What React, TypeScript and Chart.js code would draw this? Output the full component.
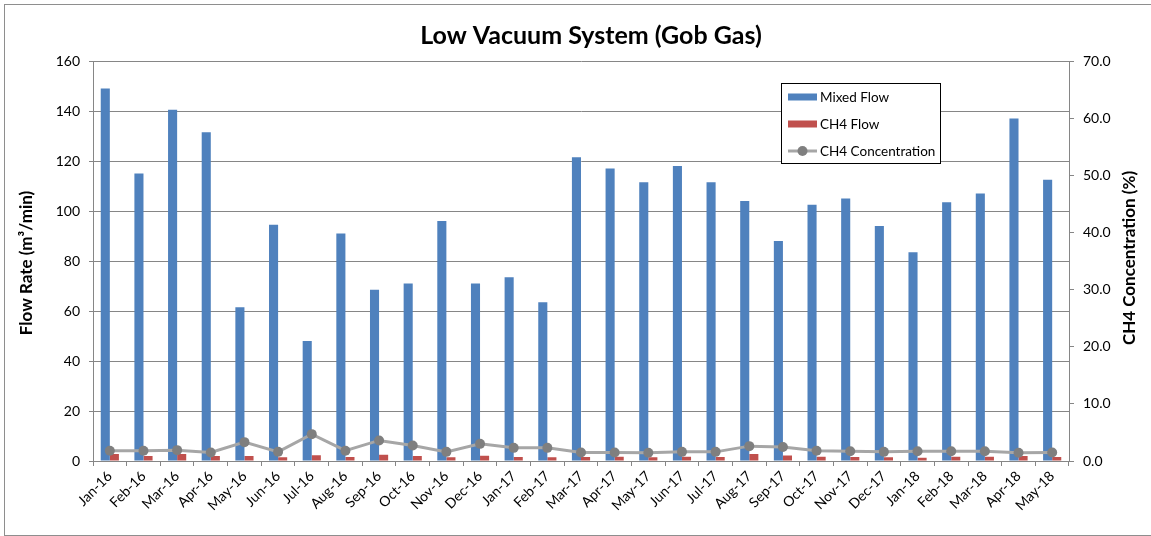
import React, { useEffect, useRef } from "react";
import { Chart, registerables } from "chart.js";

Chart.register(...registerables);

const months = [
  "Jan-16", "Feb-16", "Mar-16", "Apr-16", "May-16", "Jun-16", "Jul-16", "Aug-16", "Sep-16", "Oct-16",
  "Nov-16", "Dec-16", "Jan-17", "Feb-17", "Mar-17", "Apr-17", "May-17", "Jun-17", "Jul-17", "Aug-17",
  "Sep-17", "Oct-17", "Nov-17", "Dec-17", "Jan-18", "Feb-18", "Mar-18", "Apr-18", "May-18",
];

const mixedFlow = [
  149, 115, 140.5, 131.5, 61.5, 94.5, 48, 91, 68.5, 71,
  96, 71, 73.5, 63.5, 121.5, 117, 111.5, 118, 111.5, 104,
  88, 102.5, 105, 94, 83.5, 103.5, 107, 137, 112.5,
];

const ch4Flow = [
  2.8, 2.0, 2.8, 2.0, 2.0, 1.5, 2.3, 1.6, 2.5, 2.0,
  1.5, 2.1, 1.6, 1.5, 1.6, 1.7, 1.5, 1.7, 1.6, 2.8,
  2.2, 1.7, 1.6, 1.5, 1.3, 1.7, 1.7, 2.0, 1.6,
];

const ch4Concentration = [
  1.8, 1.8, 1.9, 1.5, 3.3, 1.6, 4.7, 1.8, 3.6, 2.7,
  1.6, 3.0, 2.3, 2.3, 1.5, 1.5, 1.45, 1.6, 1.6, 2.6,
  2.45, 1.8, 1.7, 1.6, 1.7, 1.7, 1.7, 1.45, 1.5,
];

const titleText = "Low Vacuum System (Gob Gas)";
const leftAxisTitle = "Flow Rate (m\u00B3/min)";
const rightAxisTitle = "CH4 Concentration (%)";
const legendOrder = ["Mixed Flow", "CH4 Flow", "CH4 Concentration"];

const FONT = "Lato, 'Open Sans', sans-serif";
const AXIS_GRAY = "#868686";

export default function App() {
  const ref = useRef<HTMLCanvasElement>(null);

  useEffect(() => {
    const canvas = ref.current;
    if (!canvas) return;

    const decor = {
      id: "decor",
      beforeDraw(chart: any) {
        const ctx = chart.ctx;
        ctx.save();
        ctx.fillStyle = "#ffffff";
        ctx.fillRect(0, 0, chart.width, chart.height);
        ctx.strokeStyle = "#8e8e8e";
        ctx.lineWidth = 1;
        ctx.strokeRect(4.5, 4.5, chart.width + 50, 531);
        ctx.restore();
      },
      afterDraw(chart: any) {
        const ctx = chart.ctx;
        const area = chart.chartArea;
        const midY = (area.top + area.bottom) / 2;
        ctx.save();
        // title
        ctx.fillStyle = "#000";
        ctx.font = `bold 25px ${FONT}`;
        ctx.textAlign = "center";
        ctx.textBaseline = "middle";
        ctx.fillText(titleText, 591, 36);
        // axis titles
        ctx.font = `bold 17px ${FONT}`;
        ctx.save();
        ctx.translate(27, midY + 2);
        ctx.rotate(-Math.PI / 2);
        ctx.fillText(leftAxisTitle, 0, 0);
        ctx.restore();
        ctx.save();
        ctx.translate(1130, midY - 3);
        ctx.rotate(-Math.PI / 2);
        ctx.fillText(rightAxisTitle, 0, 0);
        ctx.restore();
        // legend
        const bx = 781.5, by = 83.5, bw = 159, bh = 80;
        ctx.fillStyle = "#fff";
        ctx.fillRect(bx, by, bw, bh);
        ctx.strokeStyle = "#000";
        ctx.lineWidth = 1;
        ctx.strokeRect(bx, by, bw, bh);
        ctx.font = `13.5px ${FONT}`;
        ctx.textAlign = "left";
        ctx.textBaseline = "middle";
        legendOrder.forEach((label, i) => {
          const ds: any = chart.data.datasets.find((d: any) => d.label === label);
          if (!ds) return;
          const cy = 97 + i * 27;
          if (ds.type === "line") {
            ctx.strokeStyle = ds.borderColor;
            ctx.lineWidth = ds.borderWidth;
            ctx.beginPath();
            ctx.moveTo(788, cy);
            ctx.lineTo(817, cy);
            ctx.stroke();
            ctx.fillStyle = ds.pointBackgroundColor;
            ctx.beginPath();
            ctx.arc(802.5, cy, ds.pointRadius, 0, Math.PI * 2);
            ctx.fill();
          } else {
            ctx.fillStyle = ds.backgroundColor;
            ctx.fillRect(788, cy - 3.5, 29, 7);
          }
          ctx.fillStyle = "#000";
          ctx.fillText(label, 820, cy + 1);
        });
        ctx.restore();
      },
    };

    const chart = new Chart(canvas, {
      type: "bar",
      data: {
        labels: months,
        datasets: [
          {
            type: "line",
            label: "CH4 Concentration",
            data: ch4Concentration,
            yAxisID: "y1",
            order: 0,
            borderColor: "#A6A6A6",
            borderWidth: 3,
            tension: 0,
            pointRadius: 5,
            pointBackgroundColor: "#7F7F7F",
            pointBorderColor: "#7F7F7F",
            pointBorderWidth: 0,
          } as any,
          {
            type: "bar",
            label: "Mixed Flow",
            data: mixedFlow,
            yAxisID: "y",
            order: 1,
            backgroundColor: "#4F81BD",
            categoryPercentage: 0.54,
            barPercentage: 1,
          },
          {
            type: "bar",
            label: "CH4 Flow",
            data: ch4Flow,
            yAxisID: "y",
            order: 1,
            backgroundColor: "#C0504D",
            categoryPercentage: 0.54,
            barPercentage: 1,
          },
        ],
      },
      options: {
        responsive: false,
        animation: false,
        devicePixelRatio: 1,
        layout: { padding: { top: 61, left: 0, right: 0, bottom: 0 } },
        plugins: {
          legend: { display: false },
          title: { display: false },
          tooltip: { enabled: false },
        },
        scales: {
          x: {
            type: "category",
            offset: true,
            grid: {
              display: true,
              drawOnChartArea: false,
              offset: true,
              tickLength: 5,
              color: AXIS_GRAY,
            },
            border: { color: AXIS_GRAY },
            ticks: {
              autoSkip: false,
              minRotation: 45,
              maxRotation: 45,
              padding: 2,
              color: "#000",
              font: { family: FONT, size: 14 },
            },
            afterFit(scale: any) {
              scale.height = 75;
            },
          },
          y: {
            position: "left",
            min: 0,
            max: 160,
            ticks: {
              stepSize: 20,
              padding: 9,
              color: "#000",
              font: { family: FONT, size: 14 },
            },
            grid: { color: AXIS_GRAY, tickLength: 4 },
            border: { color: AXIS_GRAY },
            afterFit(scale: any) {
              scale.width = 93;
            },
          },
          y1: {
            position: "right",
            min: 0,
            max: 70,
            ticks: {
              stepSize: 10,
              padding: 9,
              color: "#000",
              font: { family: FONT, size: 14 },
              callback: (v: any) => Number(v).toFixed(1),
            },
            grid: { drawOnChartArea: false, color: AXIS_GRAY, tickLength: 5 },
            border: { color: AXIS_GRAY },
            afterFit(scale: any) {
              scale.width = 82;
            },
          },
        },
      },
      plugins: [decor],
    });

    return () => chart.destroy();
  }, []);

  return (
    <div style={{ position: "fixed", left: 0, top: 0, width: 1151, height: 536 }}>
      <canvas ref={ref} width={1151} height={536} style={{ display: "block" }} />
    </div>
  );
}
